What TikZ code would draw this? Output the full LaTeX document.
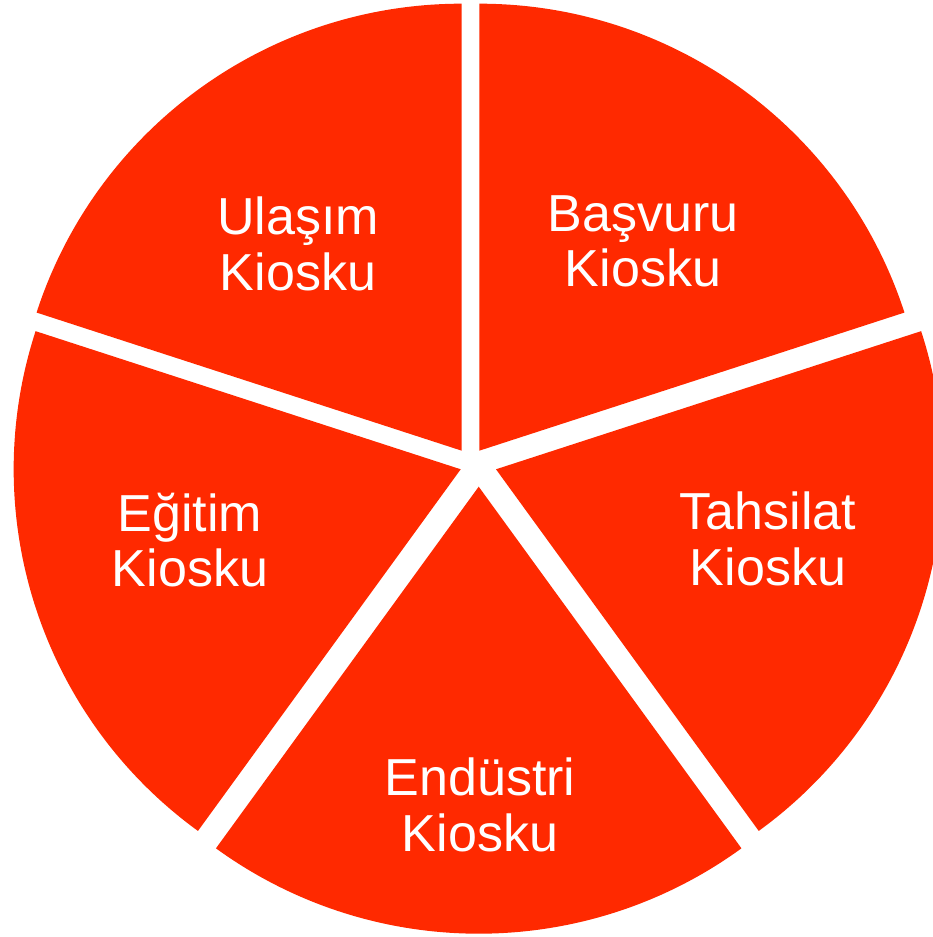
\documentclass[tikz,border=0pt]{standalone}
\usepackage{fontspec}
\setmainfont{Liberation Sans}
\usepackage{xcolor}
\usepackage{tikz}
\usetikzlibrary{positioning, calc}
\definecolor{kioskred}{RGB}{255,41,0}

\begin{document}
\begin{tikzpicture}[x=0.01cm, y=0.01cm,
    slice/.style={fill=kioskred},
    lbl/.style={text=white, align=center, inner sep=0pt,
        font=\fontsize{14.8}{15.7}\selectfont}]

    % Page frame
    \path[use as bounding box, fill=white] (0,0) rectangle (932,937);

    % Tips of the five pulled-apart slices
    \coordinate (tipB) at (479.3,486.3);
    \coordinate (tipU) at (461.7,486.3);
    \coordinate (tipE) at (460.7,467.7);
    \coordinate (tipD) at (478.7,450.3);
    \coordinate (tipT) at (496.0,467.7);

    % Top right slice
    \fill[slice] (tipB) -- ++(18:447) arc[start angle=18, end angle=90, radius=447] -- cycle;

    % Top left slice
    \fill[slice] (tipU) -- ++(90:447) arc[start angle=90, end angle=162, radius=447] -- cycle;

    % Left slice
    \fill[slice] (tipE) -- ++(162:447) arc[start angle=162, end angle=234, radius=447] -- cycle;

    % Bottom slice
    \fill[slice] (tipD) -- ++(234:447) arc[start angle=234, end angle=306, radius=447] -- cycle;

    % Right slice
    \fill[slice] (tipT) -- ++(306:447) arc[start angle=306, end angle=378, radius=447] -- cycle;

    % Slice labels
    \node[lbl] (basvuru) at (643,695.5) {Başvuru\\Kiosku};
    \node[lbl] (ulasim) at (298,693) {Ulaşım\\Kiosku};
    \node[lbl] (egitim) at (190,397) {Eğitim\\Kiosku};
    \node[lbl] (endustri) at (480,132) {Endüstri\\Kiosku};
    \node[lbl] (tahsilat) at (768,398) {Tahsilat\\Kiosku};

\end{tikzpicture}
\end{document}
